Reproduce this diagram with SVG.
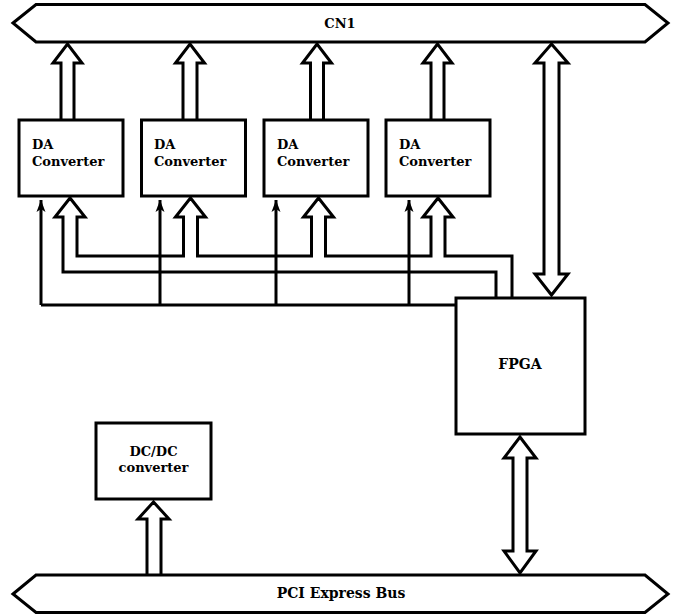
<svg xmlns="http://www.w3.org/2000/svg" width="679" height="615" viewBox="0 0 679 615">
<style>
.s{fill:#fff;stroke:#000;stroke-width:3;stroke-linejoin:miter}
.l{fill:none;stroke:#000;stroke-width:3}
.t{font-family:"DejaVu Serif",serif;font-size:13px;font-weight:bold;fill:#000}
.b{font-size:14px}
</style>
<defs>
<marker id="ah" markerWidth="10" markerHeight="14" refX="5" refY="1" orient="0" markerUnits="userSpaceOnUse">
<path d="M5,1 L9.5,13 L5,10 L0.5,13 Z" fill="#000"/>
</marker>
</defs>
<rect width="679" height="615" fill="#fff"/>
<g id="connectors">
<path class="s" d="M61,120 V63 H53 L67.5,44 L82,63 H74 V120"/>
<path class="s" d="M183,120 V63 H175.5 L190,44 L204.5,63 H197 V120"/>
<path class="s" d="M310.5,120 V63 H302.5 L317,44 L331.5,63 H323.5 V120"/>
<path class="s" d="M431,120 V63 H423 L437.5,44 L452,63 H444 V120"/>
<path class="s" d="M544,274 V63 H535 L551.5,44 L568,63 H559 V274 H568 L551.5,295 L535,274 Z"/>
<path class="s" d="M513,458 V551 H504 L520,573 L536,551 H527 V458 H536 L520,437 L504,458 Z"/>
<path class="s" d="M147,575 V519 H138 L153.5,502 L169,519 H161 V575"/>
<path class="s" d="M496,298 V272 H63 V217 H55 L70,198 L85,217 H77 V256 H183.5 V217 H175.5 L190.5,198 L205.5,217 H197.5 V256 H311.5 V217 H303.5 L318.5,198 L333.5,217 H325.5 V256 H431 V217 H423 L438,198 L453,217 H445 V256 H512 V298"/>
<path class="l" d="M41,305 H456"/>
<path class="l" d="M41,305 V200" marker-end="url(#ah)"/>
<path class="l" d="M160,305 V200" marker-end="url(#ah)"/>
<path class="l" d="M276,305 V200" marker-end="url(#ah)"/>
<path class="l" d="M409,305 V200" marker-end="url(#ah)"/>
</g>
<g id="cn1">
<path class="s" d="M13,23 L36,4.5 H645 L668,23 L645,42 H36 Z"/>
<text class="t" x="340" y="28" text-anchor="middle" font-weight="normal">CN1</text>
</g>
<g id="da1">
<rect class="s" x="19" y="120" width="104" height="76"/>
<text class="t" x="32" y="149">DA</text>
<text class="t" x="32" y="166">Converter</text>
</g>
<g id="da2">
<rect class="s" x="141.5" y="120" width="104" height="76"/>
<text class="t" x="154" y="149">DA</text>
<text class="t" x="154" y="166">Converter</text>
</g>
<g id="da3">
<rect class="s" x="264" y="120" width="104" height="76"/>
<text class="t" x="277" y="149">DA</text>
<text class="t" x="277" y="166">Converter</text>
</g>
<g id="da4">
<rect class="s" x="386" y="120" width="104" height="76"/>
<text class="t" x="399" y="149">DA</text>
<text class="t" x="399" y="166">Converter</text>
</g>
<g id="fpga">
<rect class="s" x="456" y="298" width="129" height="136"/>
<text class="t b" x="520" y="369" text-anchor="middle">FPGA</text>
</g>
<g id="dcdc">
<rect class="s" x="96" y="423" width="115" height="76"/>
<text class="t" x="153.5" y="456" text-anchor="middle">DC/DC</text>
<text class="t" x="153.5" y="472" text-anchor="middle">converter</text>
</g>
<g id="pci">
<path class="s" d="M13,594 L36,575 H645 L668,594 L645,612.5 H36 Z"/>
<text class="t b" x="341" y="598" text-anchor="middle">PCI Express Bus</text>
</g>
</svg>
